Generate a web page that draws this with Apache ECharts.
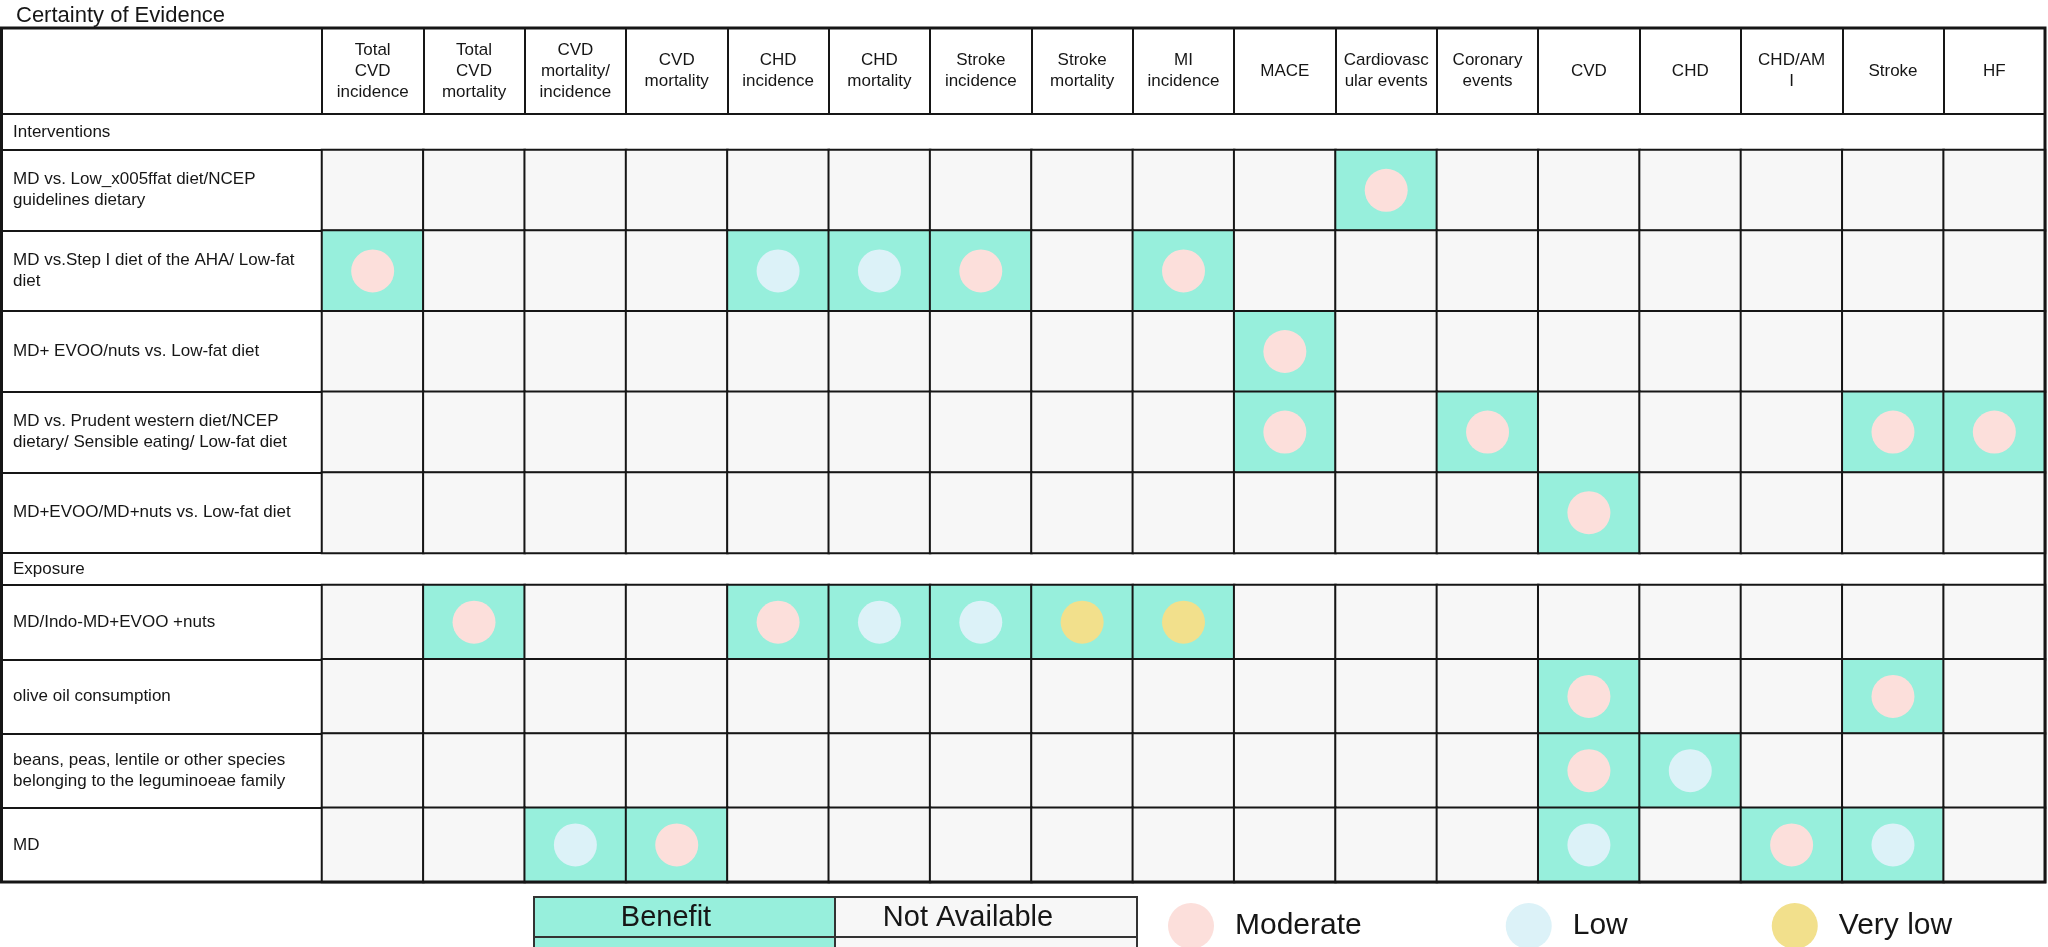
<!DOCTYPE html>
<html>
<head>
<meta charset="utf-8">
<title>Certainty of Evidence</title>
<script src="https://cdn.jsdelivr.net/npm/echarts@6/dist/echarts.min.js"></script>
<style>
  html, body { margin: 0; padding: 0; background: #fff; }
  #main { width: 2048px; height: 947px; }
</style>
</head>
<body>
<div id="main"></div>
<script>
// outcomes across the top of the table
var outcomes = ['Total CVD incidence', 'Total CVD mortality', 'CVD mortality/incidence', 'CVD mortality',
  'CHD incidence', 'CHD mortality', 'Stroke incidence', 'Stroke mortality', 'MI incidence', 'MACE',
  'Cardiovascular events', 'Coronary events', 'CVD', 'CHD', 'CHD/AMI', 'Stroke', 'HF'];
// header text as printed (wrapped)
var outcomeLabels = ['Total\nCVD\nincidence', 'Total\nCVD\nmortality', 'CVD\nmortality/\nincidence', 'CVD\nmortality',
  'CHD\nincidence', 'CHD\nmortality', 'Stroke\nincidence', 'Stroke\nmortality', 'MI\nincidence', 'MACE',
  'Cardiovasc\nular events', 'Coronary\nevents', 'CVD', 'CHD', 'CHD/AM\nI', 'Stroke', 'HF'];

var interventions = ['MD vs. Low_x005ffat diet/NCEP guidelines dietary',
  'MD vs.Step I diet of the AHA/ Low-fat diet',
  'MD+ EVOO/nuts vs. Low-fat diet',
  'MD vs. Prudent western diet/NCEP dietary/ Sensible eating/ Low-fat diet',
  'MD+EVOO/MD+nuts vs. Low-fat diet'];
var exposures = ['MD/Indo-MD+EVOO +nuts',
  'olive oil consumption',
  'beans, peas, lentile or other species belonging to the leguminoeae family',
  'MD'];

var levels = ['Moderate', 'Low', 'Very low'];

// [row, outcome, certainty] -- every rated cell is a "Benefit" cell
var interventionRatings = [
  [0, 10, 'Moderate'],
  [1, 0, 'Moderate'], [1, 4, 'Low'], [1, 5, 'Low'], [1, 6, 'Moderate'], [1, 8, 'Moderate'],
  [2, 9, 'Moderate'],
  [3, 9, 'Moderate'], [3, 11, 'Moderate'], [3, 15, 'Moderate'], [3, 16, 'Moderate'],
  [4, 12, 'Moderate']
];
var exposureRatings = [
  [0, 1, 'Moderate'], [0, 4, 'Moderate'], [0, 5, 'Low'], [0, 6, 'Low'], [0, 7, 'Very low'], [0, 8, 'Very low'],
  [1, 12, 'Moderate'], [1, 15, 'Moderate'],
  [2, 12, 'Moderate'], [2, 13, 'Low'],
  [3, 2, 'Low'], [3, 3, 'Moderate'], [3, 12, 'Low'], [3, 14, 'Moderate'], [3, 15, 'Low']
];

var FONT = 'Liberation Sans, Arial, sans-serif';
var INK = '#161616';
var BENEFIT = '#97EFDC';
var NA = '#F7F7F7';
var levelColors = { 'Moderate': '#FCDFDB', 'Low': '#DCF2F8', 'Very low': '#F2E08C' };

function cellData(rows, ratings) {
  var out = [];
  rows.forEach(function (r, ri) {
    outcomes.forEach(function (o, ci) {
      var hit = ratings.some(function (d) { return d[0] === ri && d[1] === ci; });
      out.push([ci, ri, hit ? 1 : 0]);
    });
  });
  return out;
}
function dots(ratings, level) {
  return ratings.filter(function (d) { return d[2] === level; })
    .map(function (d) { return [d[1], d[0]]; });
}

var gridL = 322, gridW = 1723;
var grids = [
  { left: gridL, width: gridW, top: 28, height: 86 },   // header
  { left: gridL, width: gridW, top: 114, height: 36 },  // Interventions band
  { left: gridL, width: gridW, top: 150, height: 403 }, // intervention rows
  { left: gridL, width: gridW, top: 553, height: 32 },  // Exposure band
  { left: gridL, width: gridW, top: 585, height: 297 }  // exposure rows
];

var line = { color: INK, width: 2 };
function hiddenX(i) {
  return { type: 'category', gridIndex: i, data: outcomes, show: false };
}
function rowAxis(i, rows) {
  return {
    type: 'category', gridIndex: i, data: rows, inverse: true,
    axisLine: { show: false },
    axisTick: { show: true, length: 321, interval: 0, lineStyle: line },
    axisLabel: {
      interval: 0, align: 'left', margin: 309, width: 300, overflow: 'break',
      fontSize: 17, lineHeight: 21, color: INK, fontFamily: FONT
    },
    splitLine: { show: false }
  };
}

var series = [];
[[2, interventions, interventionRatings], [4, exposures, exposureRatings]].forEach(function (g) {
  series.push({
    type: 'heatmap', xAxisIndex: g[0], yAxisIndex: g[0],
    data: cellData(g[1], g[2]),
    itemStyle: { borderColor: INK, borderWidth: 2 },
    emphasis: { disabled: true },
    label: { show: false }
  });
});
[[2, interventionRatings], [4, exposureRatings]].forEach(function (g) {
  levels.forEach(function (lv) {
    series.push({
      type: 'scatter', name: lv, xAxisIndex: g[0], yAxisIndex: g[0],
      data: dots(g[1], lv),
      symbol: 'circle', symbolSize: 43,
      itemStyle: { color: levelColors[lv], opacity: 1 },
      emphasis: { disabled: true },
      z: 5
    });
  });
});

var chart = echarts.init(document.getElementById('main'), null, { renderer: 'canvas' });
chart.setOption({
  animation: false,
  backgroundColor: '#fff',
  textStyle: { fontFamily: FONT },
  title: {
    text: 'Certainty of Evidence', left: 11, top: 0,
    textStyle: { fontSize: 22, fontWeight: 'normal', color: INK, fontFamily: FONT }
  },
  legend: {
    data: levels, left: 1163, top: 898, orient: 'horizontal',
    icon: 'circle', itemWidth: 46, itemHeight: 46, itemGap: 144,
    selectedMode: false,
    textStyle: { fontSize: 30, color: INK, fontFamily: FONT, padding: [0, 0, 0, 16] }
  },
  visualMap: {
    type: 'piecewise', show: false, seriesIndex: [0, 1], dimension: 2,
    pieces: [{ value: 1, color: BENEFIT }, { value: 0, color: NA }]
  },
  grid: grids,
  xAxis: [
    {
      type: 'category', gridIndex: 0, data: outcomes, position: 'bottom',
      axisLine: { show: true, lineStyle: line },
      axisTick: { show: false },
      axisLabel: {
        interval: 0, inside: true, margin: 43, verticalAlign: 'middle',
        fontSize: 17, lineHeight: 21, color: INK, fontFamily: FONT,
        formatter: function (v, i) { return outcomeLabels[i]; }
      },
      splitLine: { show: true, interval: 0, lineStyle: line }
    },
    hiddenX(1), hiddenX(2), hiddenX(3), hiddenX(4)
  ],
  yAxis: [
    {
      type: 'category', gridIndex: 0, data: [''],
      axisLine: { show: true, lineStyle: line },
      axisTick: { show: true, length: 321, interval: 0, lineStyle: line },
      axisLabel: { show: false }
    },
    rowAxis(1, ['Interventions']),
    rowAxis(2, interventions),
    rowAxis(3, ['Exposure']),
    rowAxis(4, exposures)
  ],
  series: series,
  graphic: [
    // table frame
    { type: 'rect', z: 100, shape: { x: 1.5, y: 28, width: 2043.5, height: 854 },
      style: { fill: 'none', stroke: INK, lineWidth: 3 } },
    // Benefit / Not Available key
    { type: 'rect', z: 50, shape: { x: 534, y: 937, width: 301, height: 20 },
      style: { fill: BENEFIT, stroke: '#333', lineWidth: 2 } },
    { type: 'rect', z: 50, shape: { x: 835, y: 937, width: 302, height: 20 },
      style: { fill: NA, stroke: '#333', lineWidth: 2 } },
    { type: 'rect', z: 50, shape: { x: 534, y: 897, width: 301, height: 40 },
      style: { fill: BENEFIT, stroke: '#333', lineWidth: 2 } },
    { type: 'rect', z: 50, shape: { x: 835, y: 897, width: 302, height: 40 },
      style: { fill: NA, stroke: '#333', lineWidth: 2 } },
    { type: 'text', z: 51, x: 666, y: 918,
      style: { text: 'Benefit', fontSize: 29, fill: INK, fontFamily: FONT, align: 'center', verticalAlign: 'middle' } },
    { type: 'text', z: 51, x: 968, y: 918,
      style: { text: 'Not Available', fontSize: 29, fill: INK, fontFamily: FONT, align: 'center', verticalAlign: 'middle' } }
  ]
});
</script>
</body>
</html>
